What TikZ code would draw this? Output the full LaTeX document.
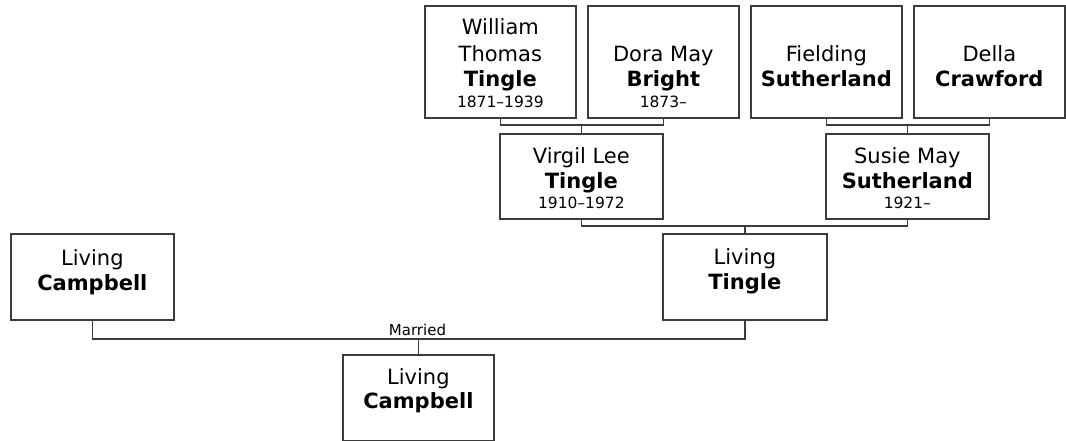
\documentclass[tikz,border=0pt]{standalone}
\usepackage{fontspec}
\setmainfont{DejaVu Sans}
\usetikzlibrary{calc}
\definecolor{lc}{RGB}{60,60,60}
\tikzset{
  pbox/.style={draw=lc, line width=1.7pt, fill=white, anchor=north west, inner sep=0pt},
  conn/.style={draw=lc, line width=1.7pt},
  nm/.style={anchor=base, inner sep=0pt, font=\fontsize{21}{25}\selectfont},
  nb/.style={anchor=base, inner sep=0pt, font=\fontsize{21}{25}\selectfont\bfseries},
  dt/.style={anchor=base, inner sep=0pt, font=\fontsize{15.5}{18}\selectfont},
}
\begin{document}
\begin{tikzpicture}[x=1pt,y=-1pt]
\useasboundingbox (0,0) rectangle (1066,441);
% boxes
\node[pbox, minimum width=151pt, minimum height=112pt] (wt) at (424,5) {};
\node[pbox, minimum width=151pt, minimum height=112pt] (db) at (587,5) {};
\node[pbox, minimum width=151pt, minimum height=112pt] (fs) at (750,5) {};
\node[pbox, minimum width=151pt, minimum height=112pt] (dc) at (913,5) {};
\node[pbox, minimum width=163pt, minimum height=85pt] (vl) at (499,133) {};
\node[pbox, minimum width=163pt, minimum height=85pt] (sm) at (825,133) {};
\node[pbox, minimum width=164pt, minimum height=86pt] (lt) at (662,233) {};
\node[pbox, minimum width=163pt, minimum height=86pt] (lc) at (10,233) {};
\node[pbox, minimum width=151pt, minimum height=86pt] (ch) at (342,354) {};
% texts
\node[nm, yshift=84pt] (wt1) at (wt.south) {William};
\node[nm, yshift=57pt] (wt2) at (wt.south) {Thomas};
\node[nb, yshift=32pt] (wt3) at (wt.south) {Tingle};
\node[dt, yshift=11pt] (wt4) at (wt.south) {1871–1939};
\node[nm, yshift=57pt] (db1) at (db.south) {Dora May};
\node[nb, yshift=32pt] (db2) at (db.south) {Bright};
\node[dt, yshift=11pt] (db3) at (db.south) {1873–};
\node[nm, yshift=57pt] (fs1) at (fs.south) {Fielding};
\node[nb, yshift=32pt] (fs2) at (fs.south) {Sutherland};
\node[nm, yshift=57pt] (dc1) at (dc.south) {Della};
\node[nb, yshift=32pt] (dc2) at (dc.south) {Crawford};
\node[nm, yshift=56pt] (vl1) at (vl.south) {Virgil Lee};
\node[nb, yshift=31pt] (vl2) at (vl.south) {Tingle};
\node[dt, yshift=11pt] (vl3) at (vl.south) {1910–1972};
\node[nm, yshift=56pt] (sm1) at (sm.south) {Susie May};
\node[nb, yshift=31pt] (sm2) at (sm.south) {Sutherland};
\node[dt, yshift=11pt] (sm3) at (sm.south) {1921–};
\node[nm, yshift=56pt] (lt1) at (lt.south) {Living};
\node[nb, yshift=31pt] (lt2) at (lt.south) {Tingle};
\node[nm, yshift=55pt] (lc1) at (lc.south) {Living};
\node[nb, yshift=30pt] (lc2) at (lc.south) {Campbell};
\node[nm, yshift=57pt] (ch1) at (ch.south) {Living};
\node[nb, yshift=33pt] (ch2) at (ch.south) {Campbell};
% bus levels
\coordinate (bus1) at (0,125);
\coordinate (bus2) at (0,226);
\coordinate (bus3) at (0,339);
% connectors
\draw[conn] (wt.south) |- (bus1 -| db.south) -- (db.south);
\draw[conn] (vl.north) -- (vl.north |- bus1);
\draw[conn] (fs.south) |- (bus1 -| dc.south) -- (dc.south);
\draw[conn] (sm.north) -- (sm.north |- bus1);
\draw[conn] (vl.south) |- (bus2 -| sm.south) -- (sm.south);
\draw[conn] (lt.north) -- (lt.north |- bus2);
\draw[conn] (lc.south) |- (bus3 -| lt.south) -- (lt.south);
\draw[conn] (ch.north) -- (ch.north |- bus3);
\node[dt, font=\fontsize{15}{18}\selectfont] (married) at (417.5,335) {Married};
\end{tikzpicture}
\end{document}
